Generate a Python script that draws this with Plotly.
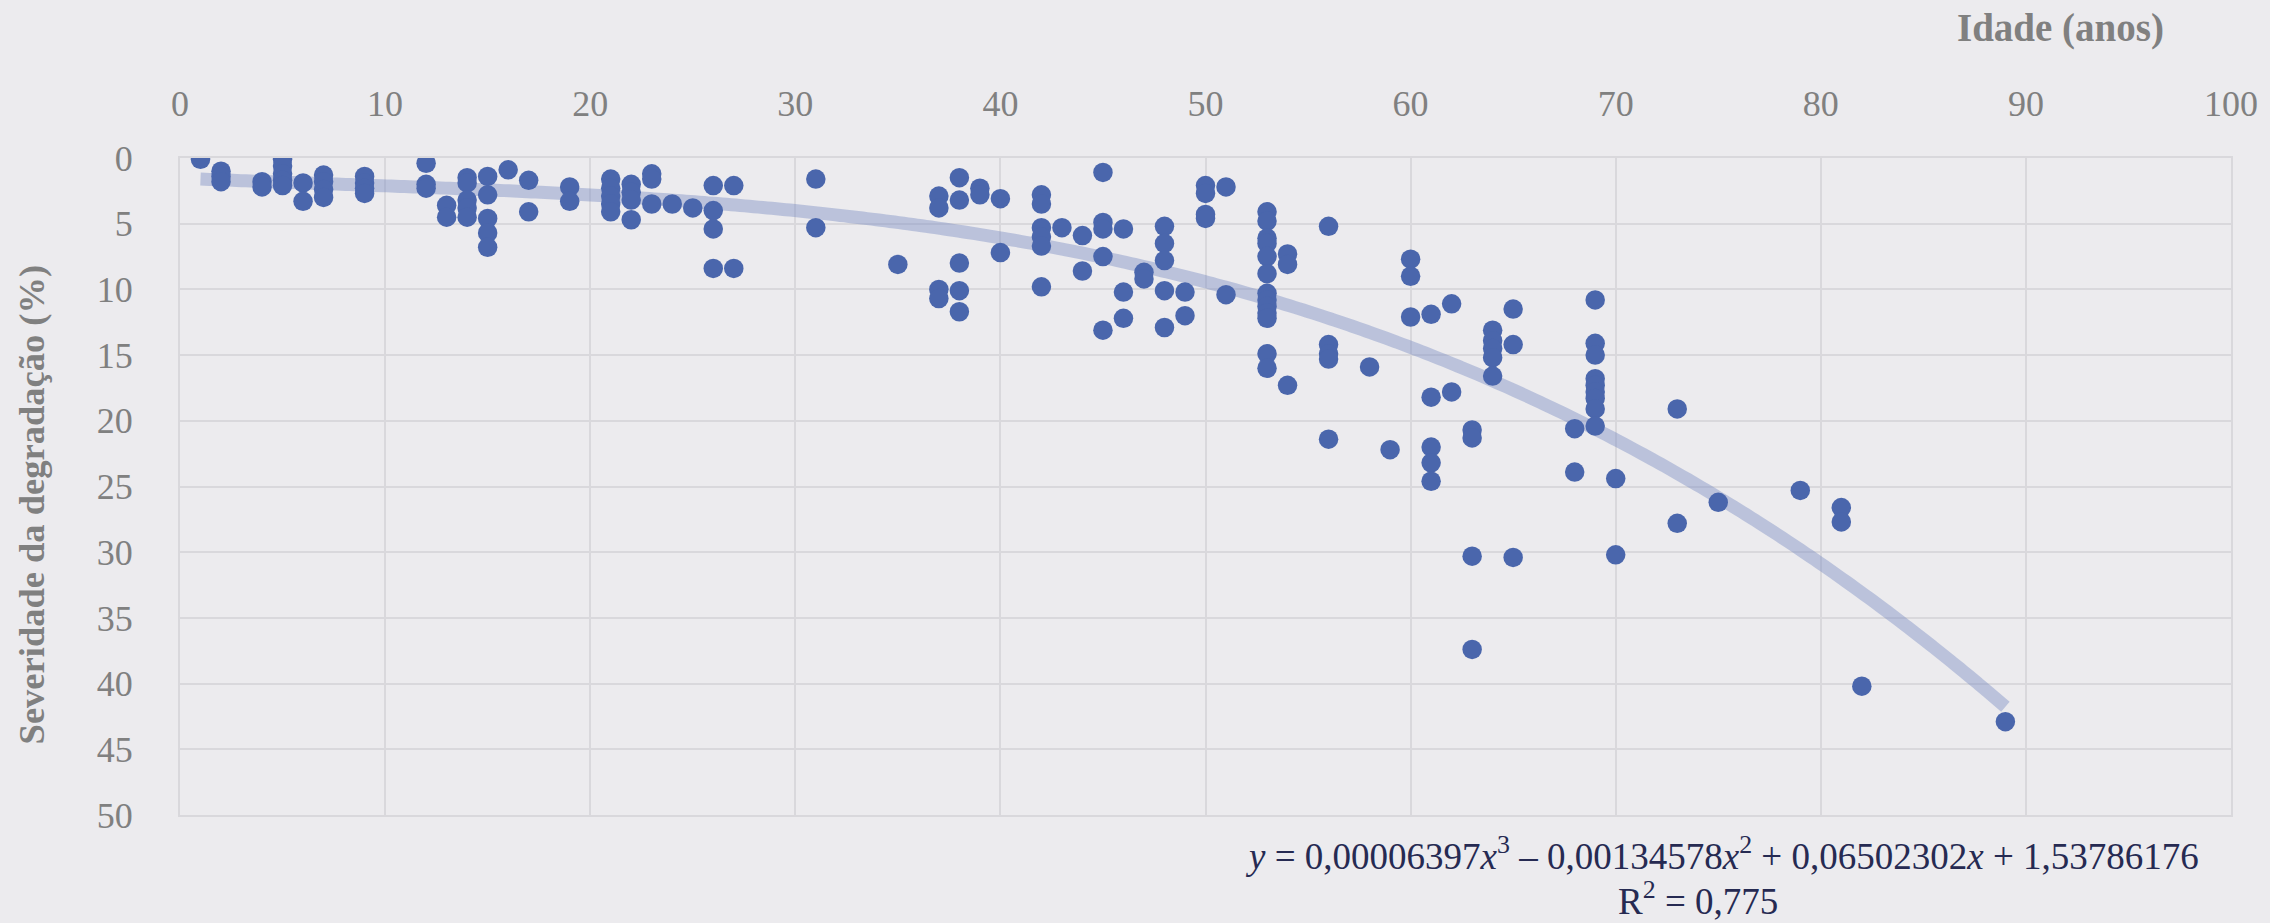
import plotly.graph_objects as go
import numpy as np

# ---- data ----
age = [
    1,
    2, 2, 2,
    4, 4,
    5, 5, 5, 5, 5,
    6, 6,
    7, 7, 7, 7,
    9, 9, 9, 9,
    12, 12, 12,
    13, 13,
    14, 14, 14, 14, 14,
    15, 15, 15, 15, 15,
    16,
    17, 17,
    19, 19,
    21, 21, 21, 21, 21,
    22, 22, 22, 22,
    23, 23, 23,
    24,
    25,
    26, 26, 26, 26,
    27, 27,
    31, 31,
    35,
    37, 37, 37, 37,
    38, 38, 38, 38, 38,
    39, 39,
    40, 40,
    42, 42, 42, 42, 42, 42,
    43,
    44, 44,
    45, 45, 45, 45, 45,
    46, 46, 46,
    47, 47,
    48, 48, 48, 48, 48,
    49, 49,
    50, 50, 50, 50,
    51, 51,
    53, 53, 53, 53, 53, 53, 53, 53, 53, 53, 53, 53, 53,
    54, 54, 54,
    56, 56, 56, 56, 56,
    58,
    59,
    60, 60, 60,
    61, 61, 61, 61, 61,
    62, 62,
    63, 63, 63, 63,
    64, 64, 64, 64, 64,
    65, 65, 65,
    68, 68,
    69, 69, 69, 69, 69, 69, 69, 69, 69,
    70, 70,
    73, 73,
    75,
    79,
    81, 81,
    82,
    89,
]
severidade = [
    0.1,
    1.0, 1.4, 1.8,
    1.8, 2.2,
    0.1, 0.6, 1.2, 1.7, 2.1,
    1.9, 3.3,
    1.3, 1.8, 2.4, 3.0,
    1.4, 1.9, 2.3, 2.7,
    0.4, 2.0, 2.3,
    3.6, 4.5,
    1.5, 1.9, 3.2, 3.8, 4.5,
    1.4, 2.8, 4.6, 5.7, 6.8,
    0.9,
    1.7, 4.1,
    2.2, 3.3,
    1.6, 2.3, 2.9, 3.5, 4.1,
    2.0, 2.6, 3.2, 4.7,
    1.2, 1.6, 3.5,
    3.5,
    3.8,
    2.1, 4.0, 5.4, 8.4,
    2.1, 8.4,
    1.6, 5.3,
    8.1,
    2.9, 3.8, 10.0, 10.7,
    1.5, 3.2, 8.0, 10.1, 11.7,
    2.3, 2.8,
    3.1, 7.2,
    2.8, 3.5, 5.3, 6.0, 6.7, 9.8,
    5.3,
    5.9, 8.6,
    1.1, 4.9, 5.4, 7.5, 13.1,
    5.4, 10.2, 12.2,
    8.7, 9.2,
    5.2, 6.5, 7.8, 10.1, 12.9,
    10.2, 12.0,
    2.1, 2.7, 4.3, 4.6,
    2.2, 10.4,
    4.1, 4.8, 6.1, 6.5, 7.5, 8.8, 10.3, 10.8, 11.3, 11.8, 12.2, 14.9, 16.0,
    7.3, 8.1, 17.3,
    5.2, 14.2, 14.9, 15.3, 21.4,
    15.9,
    22.2,
    7.7, 9.0, 12.1,
    11.9, 18.2, 22.0, 23.2, 24.6,
    11.1, 17.8,
    20.7, 21.3, 30.3, 37.4,
    13.1, 13.9, 14.5, 15.2, 16.6,
    11.5, 14.2, 30.4,
    20.6, 23.9,
    10.8, 14.1, 15.0, 16.8, 17.3, 17.8, 18.3, 19.1, 20.4,
    24.4, 30.2,
    19.1, 27.8,
    26.2,
    25.3,
    26.6, 27.7,
    40.2,
    42.9,
]

# trendline coefficients shown on the chart (cubic polynomial)
coef = [0.00006397, -0.00134578, 0.06502302, 1.53786176]
trend_x_start, trend_x_end = 1, 89
equation_text = ("<i>y</i> = 0,00006397<i>x</i><sup>3</sup> \u2013 0,00134578<i>x</i><sup>2</sup>"
                 " + 0,06502302<i>x</i> + 1,53786176")
r2_text = "R<sup>2</sup> = 0,775"

x_ticks = list(range(0, 101, 10))
y_ticks = list(range(0, 51, 5))

# ---- figure ----
BG = "#ECEBEE"
GRID = "#D9D8DC"
GRAY = "#808080"
FONT = "Liberation Serif"

tx = np.linspace(trend_x_start, trend_x_end, 200)
ty = np.polyval(coef, tx)

fig = go.Figure()
fig.add_trace(go.Scatter(
    x=tx, y=ty, mode="lines",
    line=dict(color="rgba(120,138,192,0.42)", width=13, shape="spline"),
    hoverinfo="skip", showlegend=False,
))
fig.add_trace(go.Scatter(
    x=age, y=severidade, mode="markers",
    marker=dict(size=19.5, color="#4A66AC", line=dict(width=0)),
    showlegend=False,
))

fig.update_layout(
    width=2270, height=923,
    margin=dict(l=180, r=33, t=158, b=108),
    paper_bgcolor=BG, plot_bgcolor=BG,
    font=dict(family=FONT, color=GRAY, size=36),
    showlegend=False,
)
fig.update_xaxes(
    side="top", range=[0, 100], tickvals=x_ticks,
    showgrid=True, gridcolor=GRID, gridwidth=2,
    zeroline=False, showline=True, linecolor=GRID, linewidth=2, mirror=True,
    tickfont=dict(family=FONT, size=36, color=GRAY),
    ticklabelstandoff=26,
)
fig.update_yaxes(
    range=[50, 0], tickvals=y_ticks,
    showgrid=True, gridcolor=GRID, gridwidth=2,
    zeroline=False, showline=True, linecolor=GRID, linewidth=2, mirror=True,
    tickfont=dict(family=FONT, size=36, color=GRAY),
    ticklabelstandoff=38,
)

fig.add_annotation(
    text="<b>Idade (anos)</b>", xref="paper", yref="paper",
    x=0.917, y=1.198, xanchor="center", yanchor="middle", showarrow=False,
    font=dict(family=FONT, size=39, color=GRAY),
)
fig.add_annotation(
    text="<b>Severidade da degradação (%)</b>", xref="paper", yref="paper",
    x=-0.0724, y=0.472, xanchor="center", yanchor="middle", showarrow=False,
    textangle=-90, font=dict(family=FONT, size=36.5, color=GRAY),
)
fig.add_annotation(
    text=equation_text, xref="paper", yref="paper",
    x=0.7516, y=-0.058, xanchor="center", yanchor="middle", showarrow=False,
    font=dict(family=FONT, size=37, color="#262A52"),
)
fig.add_annotation(
    text=r2_text, xref="paper", yref="paper",
    x=0.740, y=-0.127, xanchor="center", yanchor="middle", showarrow=False,
    font=dict(family=FONT, size=37, color="#262A52"),
)

fig.write_html("out.html", config={"displayModeBar": False, "responsive": False})
